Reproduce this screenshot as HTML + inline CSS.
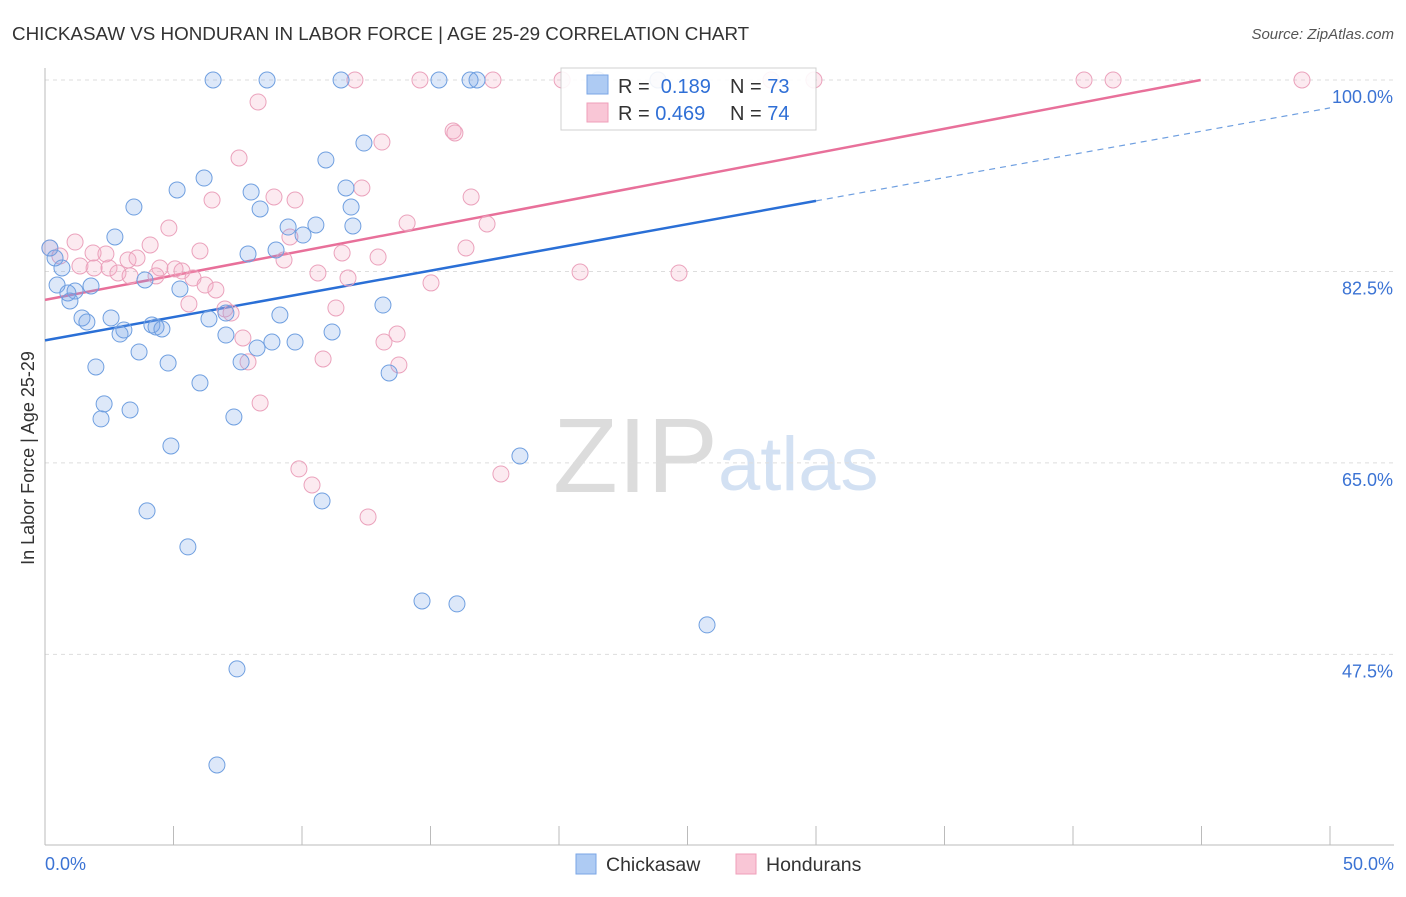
<!DOCTYPE html>
<html><head><meta charset="utf-8"><style>
body{margin:0;background:#fff;font-family:"Liberation Sans",sans-serif;}
svg text{font-family:"Liberation Sans",sans-serif;}
</style></head><body>
<svg id="chart" width="1406" height="892" xmlns="http://www.w3.org/2000/svg">
<text x="12" y="40" font-size="18.8" fill="#333">CHICKASAW VS HONDURAN IN LABOR FORCE | AGE 25-29 CORRELATION CHART</text>
<text x="1394" y="39" font-size="15" fill="#555" text-anchor="end" font-style="italic">Source: ZipAtlas.com</text>
<text x="553" y="492" font-size="106" fill="#dcdcdc" font-family="Liberation Serif">ZIP</text>
<text x="718" y="490" font-size="76" fill="#d3e1f3">atlas</text>
<text transform="translate(34,458) rotate(-90)" font-size="18" fill="#333" text-anchor="middle">In Labor Force | Age 25-29</text>
<g id="grid"></g><g id="axes"></g><g id="lines"></g><g id="pts"></g>
<g>
<rect x="561" y="68" width="255" height="62" fill="#fff" stroke="#ccc" opacity="0.9"/>
<rect x="587" y="75" width="21" height="19" fill="#aecbf3" stroke="#7aa6e6"/>
<rect x="587" y="103" width="21" height="19" fill="#f9c6d6" stroke="#ef9fba"/>
<text x="618" y="93" font-size="20" fill="#333">R = <tspan fill="#2f6fd6">&#160;0.189</tspan></text>
<text x="730" y="93" font-size="20" fill="#333">N = <tspan fill="#2f6fd6">73</tspan></text>
<text x="618" y="120" font-size="20" fill="#333">R = <tspan fill="#2f6fd6">0.469</tspan></text>
<text x="730" y="120" font-size="20" fill="#333">N = <tspan fill="#2f6fd6">74</tspan></text>
</g>
<g>
<rect x="576" y="854" width="20" height="20" fill="#aecbf3" stroke="#7aa6e6"/>
<text x="606" y="871" font-size="19.5" fill="#333">Chickasaw</text>
<rect x="736" y="854" width="20" height="20" fill="#f9c6d6" stroke="#ef9fba"/>
<text x="766" y="871" font-size="19.5" fill="#333">Hondurans</text>
</g>
</svg>
<script>
const yTicks=[100,82.5,65,47.5];
const yTickLabels=["100.0%","82.5%","65.0%","47.5%"];
const xTicks=[0,5,10,15,20,25,30,35,40,45,50];
const blueX=[6.54,8.64,11.52,15.33,16.54,16.81,21.52,23.85,12.41,10.93,6.19,5.14,8.02,11.71,8.37,11.91,3.46,9.46,10.54,11.98,10.04,2.72,7.90,8.99,0.19,0.39,0.66,3.89,0.47,1.79,1.17,0.89,0.97,5.25,13.15,1.44,1.63,2.57,6.38,9.14,7.04,3.07,2.92,4.16,4.32,4.55,7.04,11.17,8.83,9.73,8.25,3.66,1.98,4.79,7.63,13.39,6.03,2.30,3.31,2.18,7.35,4.90,18.48,10.78,3.97,5.56,14.67,16.03,25.76,7.47,6.69];
const blueY=[100,100,100,100,100,100,100,100,94.24,92.69,91.04,89.95,89.76,90.13,88.21,88.39,88.39,86.56,86.75,86.66,85.83,85.65,84.1,84.46,84.64,83.73,82.82,81.72,81.26,81.17,80.71,80.53,79.8,80.9,79.43,78.25,77.88,78.25,78.16,78.52,78.7,77.15,76.78,77.61,77.42,77.24,76.69,76.97,76.05,76.05,75.5,75.14,73.77,74.13,74.23,73.22,72.31,70.39,69.84,69.02,69.2,66.55,65.63,61.52,60.61,57.32,52.38,52.11,50.19,46.17,37.39];
const pinkX=[12.06,14.59,17.43,20.12,23.85,28.25,29.92,40.43,41.56,48.91,8.29,15.88,15.95,13.11,7.55,12.33,16.58,6.50,8.91,9.73,14.09,17.20,4.82,9.53,4.09,1.17,0.19,16.38,6.03,1.87,2.37,0.58,11.56,12.96,3.23,3.58,9.30,1.36,1.91,2.49,4.47,5.06,5.33,2.84,4.32,3.31,5.76,10.62,11.79,20.82,24.67,6.23,6.65,15.02,5.60,11.32,7.00,7.24,13.70,13.19,7.70,7.90,10.82,13.77,8.37,9.88,10.39,17.74,12.57];
const pinkY=[100,100,100,100,100,100,100,100,100,100,97.99,95.34,95.16,94.33,92.87,90.13,89.31,89.03,89.31,89.03,86.93,86.84,86.47,85.65,84.92,85.19,84.64,84.64,84.37,84.19,84.1,83.91,84.19,83.82,83.55,83.73,83.55,83.0,82.82,82.82,82.82,82.73,82.54,82.36,82.09,82.09,81.9,82.36,81.9,82.45,82.36,81.26,80.81,81.45,79.53,79.16,79.07,78.7,76.78,76.05,76.42,74.23,74.5,73.95,70.48,64.45,62.98,63.99,60.06];
const blueFit=[76.2,0.425];
const pinkFit=[79.9,0.447];
const NS="http://www.w3.org/2000/svg";
const X=v=>45+v*25.7;
const Y=v=>80+(100-v)*10.94;
function mk(tag,attrs,parent){const e=document.createElementNS(NS,tag);for(const k in attrs)e.setAttribute(k,attrs[k]);document.getElementById(parent).appendChild(e);return e;}
yTicks.forEach((t,i)=>{
 const g=mk('line',{x1:45,x2:1394,y1:Y(t),y2:Y(t),stroke:'#ddd','stroke-dasharray':'4,4'},'grid');
 
 
 const l=mk('text',{x:1393,y:Y(t)+23,'font-size':18,fill:'#3b73d4','text-anchor':'end'},'axes');
 l.textContent=yTickLabels[i];
 
 
});
const ax=mk('line',{x1:45,x2:1394,y1:845,y2:845,stroke:'#bbb'},'axes');


const ay=mk('line',{x1:45,x2:45,y1:68,y2:845,stroke:'#bbb'},'axes');


xTicks.forEach(t=>{
 const k=mk('line',{x1:X(t),x2:X(t),y1:826,y2:845,stroke:'#bbb'},'axes');
 
 
});
const x0=mk('text',{x:45,y:870,'font-size':18,fill:'#3b73d4'},'axes');x0.textContent='0.0%';


const x1=mk('text',{x:1394,y:870,'font-size':18,fill:'#3b73d4','text-anchor':'end'},'axes');x1.textContent='50.0%';


function pts(xs,ys,fill,stroke,name){xs.forEach((x,i)=>{
 const c=mk('circle',{cx:X(x),cy:Y(ys[i]),r:8,fill:fill,stroke:stroke,'stroke-width':1},'pts');
 
 
});}
pts(pinkX,pinkY,'rgba(244,170,196,0.25)','#eba2bc','honduran-point');
pts(blueX,blueY,'rgba(120,165,230,0.25)','#6f9fe0','chickasaw-point');
const b1=mk('line',{x1:X(0),y1:Y(blueFit[0]),x2:X(30),y2:Y(blueFit[0]+blueFit[1]*30),stroke:'#2a6fd6','stroke-width':2.5},'lines');


const b2=mk('line',{x1:X(30),y1:Y(blueFit[0]+blueFit[1]*30),x2:X(50),y2:Y(blueFit[0]+blueFit[1]*50),stroke:'#6f9fe0','stroke-width':1.2,'stroke-dasharray':'6,5'},'lines');


const xe=(100-pinkFit[0])/pinkFit[1];
const p1=mk('line',{x1:X(0),y1:Y(pinkFit[0]),x2:X(xe),y2:Y(100),stroke:'#e8709a','stroke-width':2.5},'lines');


</script>
</body></html>
